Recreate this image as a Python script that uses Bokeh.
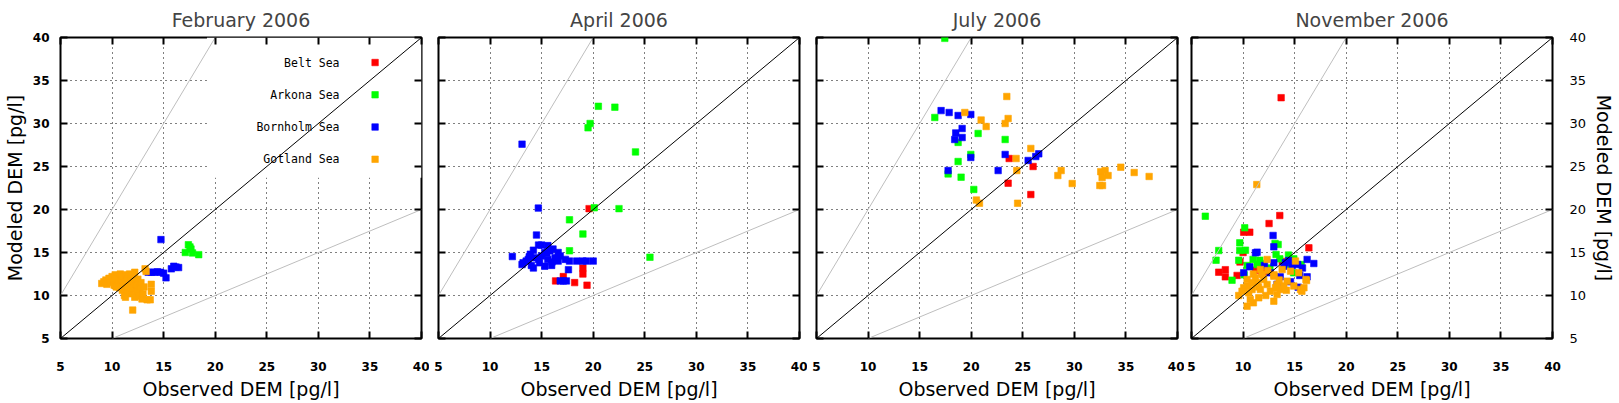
from bokeh.plotting import figure
from bokeh.models import FixedTicker, LinearAxis, Range1d, CustomJSTickFormatter
from bokeh.layouts import row
from bokeh.embed import file_html
from bokeh.resources import INLINE
from bokeh.core.properties import value

TICKS = [5, 10, 15, 20, 25, 30, 35, 40]
MONTHS = ["February 2006", "April 2006", "July 2006", "November 2006"]
SEAS = ["Belt Sea", "Arkona Sea", "Bornholm Sea", "Gotland Sea"]
SEA_COLORS = ["#ff0000", "#00ff00", "#0000ff", "#ffa500"]
X_TITLE = "Observed DEM [pg/l]"
Y_TITLE = "Modeled DEM [pg/l]"

# reference lines (1:1, factor 2, factor 1/2)
ONE_X = [5, 40]
ONE_Y = [5, 40]
DOUBLE_X = [5, 20]
DOUBLE_Y = [10, 40]
HALF_X = [10, 40]
HALF_Y = [5, 20]

# (observed, modeled) pairs
FEB_BELT = []
FEB_ARKONA = [(17.4, 15.9), (17.55, 15.65), (17.65, 15.4), (17.1, 15.0), (17.8, 14.95), (18.4, 14.75)]
FEB_BORNHOLM = [(14.74, 16.5), (13.5, 12.7), (13.8, 12.7), (14.1, 12.7), (14.4, 12.75), (14.7, 12.7),
                (15.0, 12.6), (15.23, 12.05), (15.75, 13.1), (15.98, 13.4), (16.2, 13.3), (16.45, 13.25)]
FEB_GOTLAND = [(9.0, 11.4), (9.2, 11.6), (9.4, 11.8), (9.5, 11.3), (9.7, 12.0), (9.8, 11.5), (10.0, 12.2),
               (10.1, 11.8), (10.2, 11.2), (10.3, 12.4), (10.5, 12.0), (10.6, 11.5), (10.7, 10.9), (10.8, 12.5),
               (10.9, 11.7), (11.0, 10.6), (11.0, 12.2), (11.1, 11.1), (11.2, 10.0), (11.3, 11.6), (11.4, 12.4),
               (11.5, 10.4), (11.5, 11.9), (11.6, 11.0), (11.7, 12.5), (11.8, 10.2), (11.8, 11.4), (11.9, 12.0),
               (12.0, 10.8), (12.1, 11.7), (12.2, 12.7), (12.2, 9.8), (12.3, 11.2), (12.4, 10.5), (12.5, 11.9),
               (12.6, 9.9), (12.7, 10.9), (12.8, 11.5), (12.9, 9.6), (13.0, 10.2), (13.1, 11.0), (13.2, 13.1),
               (13.3, 12.8), (13.4, 9.5), (13.7, 9.5), (13.8, 11.3), (13.8, 10.5), (12.0, 8.3), (10.4, 11.0),
               (11.3, 9.8)]

APR_BELT = [(19.6, 20.1), (19.0, 13.2), (19.0, 12.5), (17.1, 12.2), (16.35, 11.7), (18.2, 11.5), (19.4, 11.2)]
APR_ARKONA = [(20.1, 20.2), (22.5, 20.1), (17.7, 18.8), (19.0, 17.15), (17.7, 15.2), (25.5, 14.45),
              (20.5, 32.0), (22.1, 31.9), (19.7, 30.0), (19.5, 29.5), (24.1, 26.7)]
APR_BORNHOLM = [(14.68, 20.16), (14.5, 17.03), (12.16, 14.53), (13.1, 27.6), (14.7, 15.86), (15.0, 15.86),
                (15.6, 15.8), (14.2, 15.27), (16.1, 15.4), (16.6, 15.0), (15.8, 15.2), (13.2, 13.8),
                (13.1, 13.6), (14.0, 13.5), (13.7, 14.2), (14.4, 14.4), (15.3, 13.4), (15.97, 13.5),
                (16.6, 14.0), (17.3, 14.2), (17.7, 14.0), (17.6, 13.0), (18.4, 14.0), (19.0, 14.0),
                (19.35, 14.0), (20.0, 14.0), (16.8, 11.7), (17.1, 11.7), (17.4, 11.7), (15.0, 14.6),
                (14.7, 14.2), (15.6, 14.2), (16.3, 14.4), (16.8, 14.6), (15.3, 15.0), (13.9, 14.8),
                (13.5, 14.0), (14.8, 13.8), (16.0, 13.9), (15.5, 14.9), (13.8, 14.5), (14.2, 13.2)]
APR_GOTLAND = []

JUL_BELT = [(23.68, 25.93), (26.0, 25.0), (23.58, 23.06), (25.78, 21.74)]
JUL_ARKONA = [(17.44, 39.9), (16.47, 30.7), (20.67, 28.84), (23.29, 28.14), (18.73, 27.8), (19.96, 26.4),
              (18.73, 25.58), (17.76, 24.14), (19.02, 23.76), (20.25, 22.33)]
JUL_BORNHOLM = [(17.08, 31.5), (17.86, 31.28), (18.73, 30.93), (19.96, 31.05), (19.12, 29.42), (18.5, 28.9),
                (19.12, 28.37), (18.4, 28.14), (23.29, 26.4), (19.96, 26.05), (25.52, 25.7), (26.26, 26.16),
                (26.55, 26.47), (22.61, 24.53), (17.76, 24.53)]
JUL_GOTLAND = [(23.45, 33.14), (19.38, 31.28), (20.96, 30.4), (23.58, 30.58), (23.29, 30.0), (21.45, 29.65),
               (25.78, 27.1), (24.35, 25.93), (24.42, 24.53), (28.72, 24.53), (28.4, 23.95), (34.5, 24.92),
               (35.8, 24.3), (37.25, 23.84), (32.56, 24.4), (32.98, 24.53), (33.27, 23.95), (32.69, 23.72),
               (32.47, 22.79), (32.73, 22.79), (29.79, 23.02), (20.5, 21.1), (20.8, 20.73), (24.5, 20.73)]

NOV_BELT = [(13.69, 33.0), (13.56, 19.3), (12.52, 18.37), (10.06, 17.36), (10.65, 17.36), (16.38, 15.54),
            (7.64, 12.71), (8.28, 13.0), (8.28, 12.17), (9.42, 12.33), (11.2, 12.95), (11.84, 12.64),
            (12.5, 12.83), (13.8, 13.95), (9.7, 13.9), (10.0, 15.0), (11.5, 13.3)]
NOV_ARKONA = [(6.34, 19.22), (10.16, 17.87), (9.68, 16.12), (9.68, 15.23), (10.23, 15.27), (7.64, 15.23),
              (7.38, 14.1), (9.58, 14.1), (13.1, 16.05), (13.4, 15.93), (13.2, 14.77), (8.93, 11.78),
              (10.97, 14.19), (11.62, 14.1), (12.0, 13.72), (11.36, 13.6), (13.56, 14.26), (14.6, 13.49),
              (14.9, 12.64), (15.63, 13.6), (10.4, 13.49), (14.92, 14.26), (14.4, 14.7), (10.1, 12.4),
              (12.6, 13.2)]
NOV_BORNHOLM = [(12.91, 16.98), (12.98, 15.66), (11.2, 14.96), (11.36, 15.04), (14.43, 14.07), (16.21, 14.19),
                (16.86, 13.72), (15.3, 13.6), (15.76, 13.2), (12.98, 13.8), (13.95, 13.41), (14.76, 13.49),
                (15.5, 12.33), (16.21, 12.17), (15.34, 10.97), (10.65, 13.33), (12.07, 13.49), (12.65, 12.64),
                (13.6, 12.17), (10.06, 12.64), (14.1, 13.8), (13.3, 11.3), (14.6, 11.6)]
NOV_GOTLAND = [(11.33, 22.9), (12.33, 14.19), (15.08, 14.0), (16.1, 11.86), (15.57, 10.7), (9.58, 10.0),
               (10.39, 8.76), (11.0, 9.15), (10.7, 9.53), (11.52, 9.73), (12.98, 9.34), (13.3, 10.12),
               (10.39, 11.1), (11.36, 11.47), (12.0, 11.86), (12.98, 12.25), (13.79, 13.02), (14.6, 12.83),
               (14.27, 11.67), (14.92, 11.1), (13.63, 10.7), (12.65, 10.5), (11.68, 10.7), (10.87, 10.7),
               (10.55, 10.31), (12.33, 11.28), (13.3, 11.28), (11.2, 12.05), (11.84, 12.44), (15.4, 12.64),
               (13.95, 11.1), (13.14, 10.9), (10.06, 10.9), (9.9, 10.5), (10.39, 11.86), (10.87, 11.47),
               (11.68, 13.02), (16.15, 11.74), (15.7, 10.5), (12.4, 12.9), (13.5, 11.8), (11.0, 12.5),
               (12.2, 10.0), (14.2, 10.6), (15.9, 10.9), (11.5, 11.0), (13.0, 12.4)]

PANEL_DATA = [
    [FEB_BELT, FEB_ARKONA, FEB_BORNHOLM, FEB_GOTLAND],
    [APR_BELT, APR_ARKONA, APR_BORNHOLM, APR_GOTLAND],
    [JUL_BELT, JUL_ARKONA, JUL_BORNHOLM, JUL_GOTLAND],
    [NOV_BELT, NOV_ARKONA, NOV_BORNHOLM, NOV_GOTLAND],
]

# layout / style
BORDER_LEFT = [53, 9, 9, 7]
BORDER_RIGHT = [8, 8, 7, 56]
FONT = "DejaVu Sans"
MARK_SIZE = 6.5
LEGEND_TEXT_X = 32.05
LEGEND_MARK_X = 35.5
LEGEND_TOP_Y = 37.09
LEGEND_STEP = 3.75
LEGEND_BOX = (19.2, 23.7)


def tick_axis(ax):
    ax.ticker = FixedTicker(ticks=TICKS)
    ax.major_tick_in = 7
    ax.major_tick_out = 0
    ax.minor_tick_line_color = None
    ax.axis_line_color = None
    ax.major_tick_line_color = "black"
    ax.major_tick_line_width = 2


def hide_labels(ax):
    ax.formatter = CustomJSTickFormatter(code="return ''")
    ax.major_label_text_color = None
    ax.major_label_text_font_size = "1px"
    ax.major_label_standoff = 0
    ax.axis_label = None


def label_axis(ax, bold=True, size="12px", standoff=11):
    ax.major_label_text_font = FONT
    ax.major_label_text_font_size = size
    ax.major_label_text_font_style = "bold" if bold else "normal"
    ax.major_label_text_color = "black"
    ax.major_label_standoff = standoff


def axis_title(ax, text, standoff):
    ax.axis_label = text
    ax.axis_label_text_font = FONT
    ax.axis_label_text_font_size = "19px"
    ax.axis_label_text_font_style = "normal"
    ax.axis_label_text_color = "black"
    ax.axis_label_standoff = standoff


figs = []
for i in range(4):
    last = i == 3
    p = figure(frame_width=361, frame_height=301,
               x_range=Range1d(5, 40), y_range=Range1d(5, 40),
               output_backend="svg", toolbar_location=None,
               y_axis_location="right" if last else "left",
               min_border_left=BORDER_LEFT[i], min_border_right=BORDER_RIGHT[i],
               min_border_top=29, min_border_bottom=50, title=MONTHS[i])
    p.title.text_font = FONT
    p.title.text_font_size = "19px"
    p.title.text_font_style = "normal"
    p.title.align = "center"
    p.title.standoff = 13
    p.outline_line_color = "black"
    p.outline_line_width = 2
    p.outline_line_alpha = 1
    p.background_fill_color = "white"
    p.border_fill_color = "white"

    for g in (p.xgrid[0], p.ygrid[0]):
        g.ticker = FixedTicker(ticks=TICKS)
        g.grid_line_color = "black"
        g.grid_line_dash = "1 4"
        g.grid_line_width = 1
        g.grid_line_alpha = 1

    # bottom axis
    xb = p.xaxis[0]
    tick_axis(xb)
    label_axis(xb, standoff=23)
    axis_title(xb, X_TITLE, 4)

    # main y axis
    ya = p.yaxis[0]
    tick_axis(ya)
    if i == 0:
        label_axis(ya, standoff=11)
        axis_title(ya, Y_TITLE, 4)
    elif last:
        label_axis(ya, bold=False, size="13px", standoff=17)
        axis_title(ya, Y_TITLE, 4)
    else:
        hide_labels(ya)

    # mirrored tick axes
    top = LinearAxis()
    tick_axis(top)
    hide_labels(top)
    p.add_layout(top, "above")
    mirror = LinearAxis()
    tick_axis(mirror)
    hide_labels(mirror)
    p.add_layout(mirror, "left" if last else "right")

    if i == 0:
        # key area keeps the grid clear
        p.quad(left=[LEGEND_BOX[0]], right=[40], bottom=[LEGEND_BOX[1]], top=[40],
               fill_color="white", line_color=None)

    for series, color in zip(PANEL_DATA[i], SEA_COLORS):
        if series:
            xs = [pt[0] for pt in series]
            ys = [pt[1] for pt in series]
            p.scatter(xs, ys, marker="square", size=MARK_SIZE, fill_color=color,
                      line_color=color, line_width=0.6)

    p.line(DOUBLE_X, DOUBLE_Y, line_color="#bebebe", line_width=1)
    p.line(HALF_X, HALF_Y, line_color="#bebebe", line_width=1)
    p.line(ONE_X, ONE_Y, line_color="black", line_width=1)

    if i == 0:
        ly = [LEGEND_TOP_Y - k * LEGEND_STEP for k in range(len(SEAS))]
        p.text(x=[LEGEND_TEXT_X] * len(SEAS), y=ly, text=SEAS, text_align="right",
               text_baseline="middle", text_font=value("DejaVu Sans Mono"),
               text_font_size="11.5px", text_color="black")
        p.scatter([LEGEND_MARK_X] * len(SEAS), ly, marker="square", size=MARK_SIZE,
                  fill_color=SEA_COLORS, line_color=SEA_COLORS, line_width=0.6)

    figs.append(p)

layout = row(*figs, spacing=0)
open("out.html", "w").write(file_html(layout, INLINE))
